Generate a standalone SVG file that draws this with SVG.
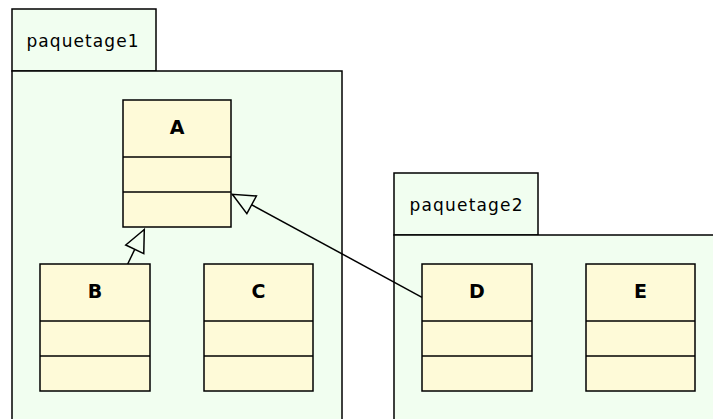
<svg xmlns="http://www.w3.org/2000/svg" width="713" height="419" viewBox="0 0 713 419">
  <style>
    .pkg { fill: #f1fef0; stroke: #000; stroke-width: 1.5; }
    .cls { fill: #fefad8; stroke: #000; stroke-width: 1.5; }
    .sep { stroke: #000; stroke-width: 1.5; }
    .pname { font-family: "DejaVu Sans", "Liberation Sans", sans-serif; font-size: 17px; fill: #000; }
    .cname { font-family: "DejaVu Sans", "Liberation Sans", sans-serif; font-size: 19px; font-weight: bold; fill: #000; text-anchor: middle; }
    .gen { fill: none; stroke: #000; stroke-width: 1.5; marker-end: url(#hollow); }
  </style>
  <defs>
    <marker id="hollow" markerUnits="userSpaceOnUse" viewBox="-26 -13 28 26" markerWidth="28" markerHeight="26" refX="0" refY="0" orient="auto">
      <path d="M0,0 L-22,-10 L-22,10 Z" fill="#f1fef0" stroke="#000" stroke-width="1.5" stroke-linejoin="miter"/>
    </marker>
  </defs>

  <rect width="713" height="419" fill="#ffffff"/>

  <!-- package paquetage1 -->
  <g id="paquetage1">
    <rect class="pkg" x="12" y="9" width="144" height="62"/>
    <rect class="pkg" x="12" y="71" width="330" height="360"/>
    <text class="pname" x="26.5" y="47" textLength="112" lengthAdjust="spacing">paquetage1</text>
  </g>

  <!-- package paquetage2 -->
  <g id="paquetage2">
    <rect class="pkg" x="394" y="173" width="144" height="62"/>
    <rect class="pkg" x="394" y="235" width="330" height="200"/>
    <text class="pname" x="409.5" y="211" textLength="113" lengthAdjust="spacing">paquetage2</text>
  </g>

  <!-- classes -->
  <g id="A">
    <rect class="cls" x="123" y="100" width="108" height="127"/>
    <line class="sep" x1="123" y1="157" x2="231" y2="157"/>
    <line class="sep" x1="123" y1="192" x2="231" y2="192"/>
    <text class="cname" x="177" y="133.5">A</text>
  </g>
  <g id="B">
    <rect class="cls" x="40" y="264" width="110" height="127"/>
    <line class="sep" x1="40" y1="321" x2="150" y2="321"/>
    <line class="sep" x1="40" y1="356" x2="150" y2="356"/>
    <text class="cname" x="95" y="297.5">B</text>
  </g>
  <g id="C">
    <rect class="cls" x="204" y="264" width="109" height="127"/>
    <line class="sep" x1="204" y1="321" x2="313" y2="321"/>
    <line class="sep" x1="204" y1="356" x2="313" y2="356"/>
    <text class="cname" x="258.5" y="297.5">C</text>
  </g>
  <g id="D">
    <rect class="cls" x="422" y="264" width="110" height="127"/>
    <line class="sep" x1="422" y1="321" x2="532" y2="321"/>
    <line class="sep" x1="422" y1="356" x2="532" y2="356"/>
    <text class="cname" x="477" y="297.5">D</text>
  </g>
  <g id="E">
    <rect class="cls" x="586" y="264" width="109" height="127"/>
    <line class="sep" x1="586" y1="321" x2="695" y2="321"/>
    <line class="sep" x1="586" y1="356" x2="695" y2="356"/>
    <text class="cname" x="640.5" y="297.5">E</text>
  </g>

  <!-- generalisation connectors -->
  <g id="connectors">
    <line class="gen" x1="127.7" y1="264" x2="144.3" y2="229.5"/>
    <line class="gen" x1="422" y1="297.3" x2="232.3" y2="194.3"/>
  </g>
</svg>
